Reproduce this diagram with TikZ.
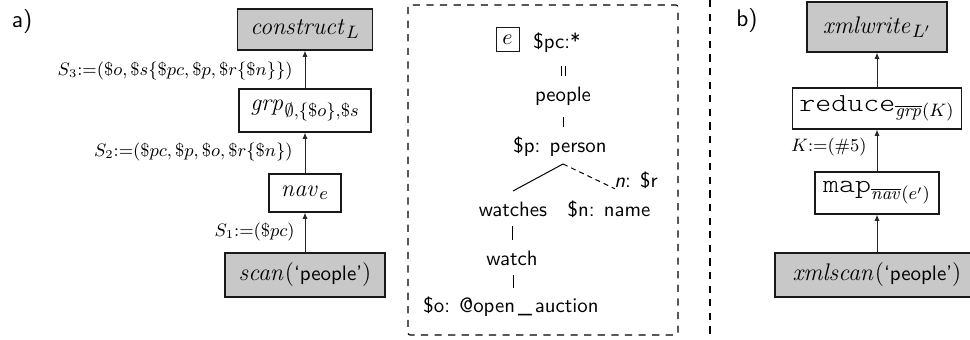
\documentclass[tikz,border=0pt]{standalone}
\usepackage{amsmath,amssymb,graphicx}
\usetikzlibrary{arrows.meta,calc}
\definecolor{boxgray}{RGB}{200,200,200}
\newcommand{\opname}[1]{\mbox{\scalebox{1.17}[1]{\ttfamily\fontseries{l}\fontsize{13}{15}\selectfont #1}}}
\newcommand{\srcname}{\mbox{\sffamily\fontsize{10.5}{12}\selectfont `people'}}
\begin{document}
\begin{tikzpicture}[x=0.5pt,y=-0.5pt,
  opbox/.style={draw=black!90, line width=0.6pt, inner sep=0pt, font=\fontsize{13}{15}\selectfont},
  srcbox/.style={opbox, fill=boxgray},
  lbl/.style={anchor=east, inner sep=0pt, font=\fontsize{9.1}{11}\selectfont},
  tr/.style={inner sep=0pt, font=\sffamily\fontsize{10.4}{12.5}\selectfont},
  flow/.style={draw=black!85, line width=0.5pt, -{Latex[length=3.2pt,width=2.6pt]}},
  bar/.style={draw=black, line width=0.5pt},
  dashline/.style={draw=black, line width=0.55pt, dash pattern=on 3.6pt off 3.2pt},
  panel/.style={inner sep=0pt, font=\sffamily\fontsize{12}{14}\selectfont}]
\useasboundingbox (0,0) rectangle (970,340);

% ---- panel a
\node[panel] (la) at (22,22) {a)};
\node[srcbox, minimum width=67.5pt, minimum height=20.5pt] (construct) at (305,29.5) {$\mathit{construct}_L$};
\node[opbox, minimum width=66pt, minimum height=21.5pt] (grp) at (305,110.5) {$\mathit{grp}_{\emptyset,\{\$o\},\$s}$};
\node[opbox, minimum width=36pt, minimum height=19pt] (nav) at (305,193) {$\mathit{nav}_e$};
\node[srcbox, minimum width=80pt, minimum height=22pt] (scan) at (305,275) {$\mathit{scan}(\srcname)$};
\draw[flow] (scan) -- (nav);
\draw[flow] (nav) -- (grp);
\draw[flow] (grp) -- (construct);
\node[lbl] (s3) at (293,71) {$S_3{:=}(\$o,\$s\{\$pc,\$p,\$r\{\$n\}\})$};
\node[lbl] (s2) at (293,152) {$S_2{:=}(\$pc,\$p,\$o,\$r\{\$n\})$};
\node[lbl] (s1) at (295,232) {$S_1{:=}(\$pc)$};

% ---- middle tree
\draw[dashline, rounded corners=1pt] (408,5) rectangle (678,335);
\draw[dashline] (710,0) -- (710,340);
\node[draw=black!90, line width=0.5pt, minimum width=11.5pt, minimum height=12pt, inner sep=0pt, font=\fontsize{10.5}{12}\selectfont] (ebox) at (507.5,40) {$e$};
\node[tr, anchor=west] (pc) at (533,43) {\$pc:*};
\node[tr] (people) at (563,96) {people};
\node[tr] (person) at (560,147) {\$p:\hspace{0.45em}person};
\node[tr] (watches) at (513,209) {watches};
\node[tr] (name) at (609,209) {\$n:\hspace{0.45em}name};
\node[tr] (nr) at (636,180) {\textit{n}: \$r};
\node[tr] (watch) at (512,258) {watch};
\node[tr] (oa) at (511,307) {\$o:\hspace{0.45em}@open\kern1.5pt\_\kern1.5pt auction};
\draw[bar] ([xshift=-1pt,yshift=10pt]people.center) -- ([xshift=-1pt,yshift=15pt]people.center);
\draw[bar] ([xshift=1pt,yshift=10pt]people.center) -- ([xshift=1pt,yshift=15pt]people.center);
\draw[bar] ([xshift=1.5pt,yshift=10pt]person.center) -- ([xshift=1.5pt,yshift=15pt]person.center);
\coordinate (apex) at ([xshift=1.5pt,yshift=-8.5pt]person.center);
\draw[bar] (apex) -- ([yshift=9pt]watches.center);
\draw[bar, dash pattern=on 2.5pt off 2pt] (apex) -- ([xshift=0.5pt]nr.south west);
\draw[bar] ([yshift=9pt]watch.center) -- ([yshift=16pt]watch.center);
\draw[bar] ([xshift=1pt,yshift=9.5pt]oa.center) -- ([xshift=1pt,yshift=16pt]oa.center);

% ---- panel b
\node[panel] (lb) at (747,21) {b)};
\node[srcbox, minimum width=70pt, minimum height=25pt] (xw) at (877,27) {$\mathit{xmlwrite}_{L'}$};
\node[opbox, minimum width=84.5pt, minimum height=20.5pt] (red) at (877,108.5) {$\opname{reduce}_{\overline{\mathit{grp}}(K)}$};
\node[opbox, minimum width=62pt, minimum height=21pt] (map) at (877,193) {$\opname{map}_{\overline{\mathit{nav}}(e')}$};
\node[srcbox, minimum width=102pt, minimum height=22pt] (xs) at (877,275) {$\mathit{xmlscan}(\srcname)$};
\draw[flow] (xs) -- (map);
\draw[flow] (map) -- (red);
\draw[flow] (red) -- (xw);
\node[lbl] (k) at (867,147) {$K{:=}(\#5)$};
\end{tikzpicture}
\end{document}
